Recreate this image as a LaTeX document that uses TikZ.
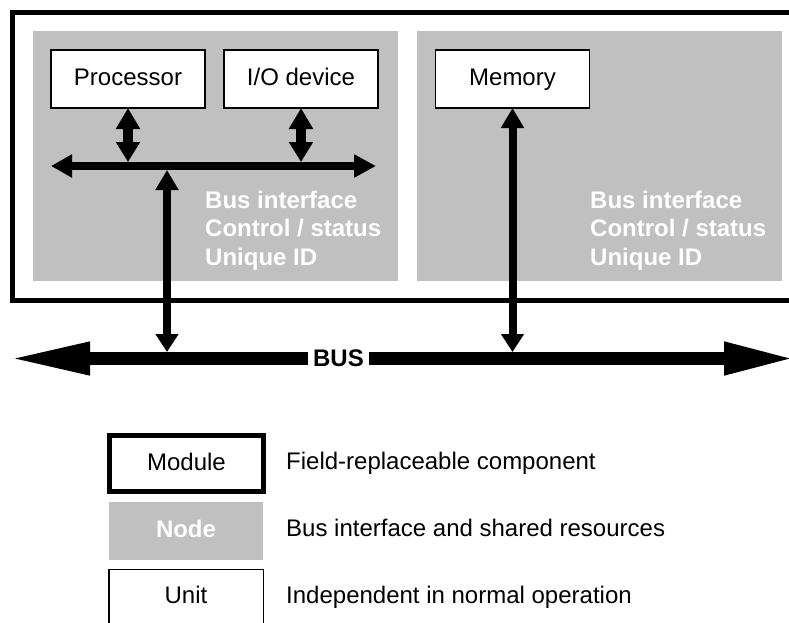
\documentclass[tikz,border=0pt]{standalone}
\usepackage{fontspec}
\setmainfont{Liberation Sans}
\usetikzlibrary{arrows.meta}
\definecolor{panelgray}{RGB}{192,192,192}

\begin{document}
\begin{tikzpicture}[x=1pt,y=-1pt,
  txt/.style={font=\fontsize{24}{28.5}\selectfont},
  boldtxt/.style={font=\fontsize{24}{28.5}\selectfont\bfseries},
  boxtext/.style={text height=17pt, text depth=4pt},
  unitbox/.style={txt, boxtext, draw=black, line width=1.5pt, fill=white,
    minimum width=154pt, minimum height=58pt, inner sep=0pt, outer sep=0pt},
  panel/.style={fill=panelgray, inner sep=0pt, outer sep=0pt},
  paneltext/.style={boldtxt, text=white, align=left, anchor=north west, inner sep=0pt},
  ibus/.style={line width=8pt,
    {Triangle[length=21pt,width=22pt]}-{Triangle[length=22pt,width=22pt]}},
  dbl/.style={line width=10pt,
    {Triangle[length=21pt,width=23pt]}-{Triangle[length=20pt,width=23pt]}},
  vlink/.style={line width=8pt,
    {Triangle[length=18pt,width=22pt]}-{Triangle[length=20pt,width=22pt]}},
  mainbus/.style={line width=13pt,
    {Triangle[length=82pt,width=30pt]}-{Triangle[length=72pt,width=30pt]}},
  legtext/.style={txt, anchor=base west, inner sep=0pt}
]
\path[use as bounding box] (0,0) rectangle (789,622);
\clip (0,0) rectangle (789,622);

% module outline (runs past the right edge)
\draw[line width=5pt] (12.5,12.5) rectangle (805,300.5);

% the two nodes
\node[panel, minimum width=365pt, minimum height=250pt] (nodeA) at (215.5,156) {};
\node[panel, minimum width=365pt, minimum height=250pt] (nodeB) at (599.5,156) {};

\node[paneltext] (infoA) at (205,190.5) {Bus interface\\Control / status\\Unique ID};
\node[paneltext] (infoB) at (590,190.5) {Bus interface\\Control / status\\Unique ID};

% units
\node[unitbox] (proc) at (128,79) {Processor};
\node[unitbox] (io) at (301,79) {I/O device};
\node[unitbox] (mem) at (512.5,79) {Memory};

% internal bus of the first node
\coordinate (ibL) at (51,166);
\coordinate (ibR) at (376,166);
\draw[ibus] (ibL) -- (ibR);

\coordinate (procJ) at (128,162);
\coordinate (ioJ) at (301,162);
\draw[dbl] (proc.south) -- (procJ);
\draw[dbl] (io.south) -- (ioJ);

% system bus and its taps
\coordinate (busL) at (8,358.5);
\coordinate (busR) at (796,358.5);
\coordinate (tapA) at (167,352);
\coordinate (tapAin) at (167,170);
\coordinate (tapB) at (512.5,352);

\draw[vlink] (tapA) -- (tapAin);
\draw[vlink] (tapB) -- (mem.south);

\draw[mainbus] (busL) -- (busR);
\node[boldtxt, fill=white, inner xsep=5pt, inner ysep=1pt] (buslabel) at (338.5,358.5) {BUS};

% legend
\node[txt, boxtext, draw=black, line width=5pt, fill=white, minimum width=154pt,
  minimum height=56pt, inner sep=0pt] (legmodule) at (186.5,463.5) {Module};
\node[boldtxt, boxtext, text=white, fill=panelgray, minimum width=154pt,
  minimum height=58pt, inner sep=0pt] (legnode) at (186,531) {Node};
\node[draw=black, line width=1.5pt, fill=white, minimum width=154.5pt,
  minimum height=80pt, inner sep=0pt, anchor=north] (legunit) at (186,568.75) {};
\node[txt, anchor=base, inner sep=0pt] (legunittext) at (186,603) {Unit};

\node[legtext] (descmodule) at (286,469) {Field-replaceable component};
\node[legtext] (descnode) at (286,536) {Bus interface and shared resources};
\node[legtext] (descunit) at (286,603) {Independent in normal operation};
\end{tikzpicture}
\end{document}
